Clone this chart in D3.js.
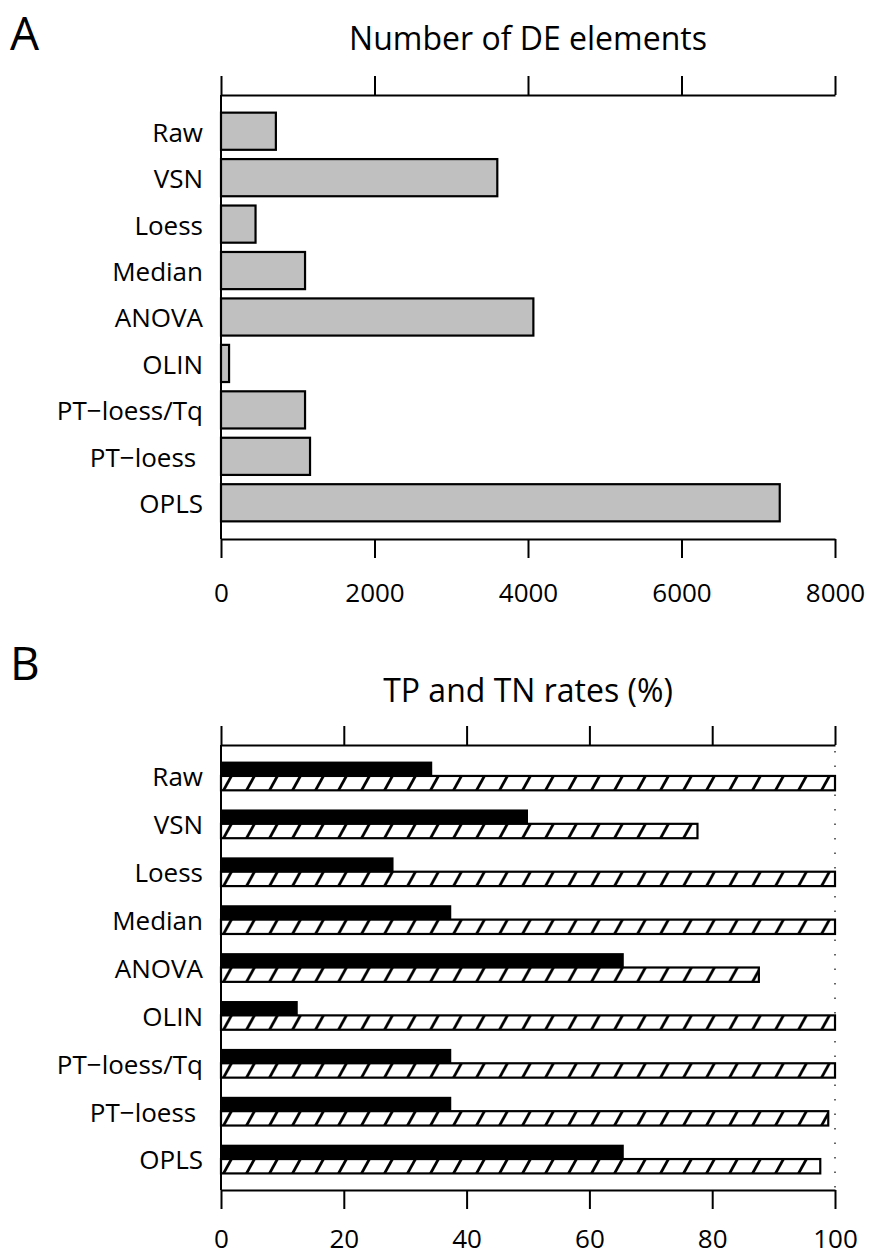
<!DOCTYPE html>
<html>
<head>
<meta charset="UTF-8">
<title>DE elements and TP/TN rates</title>
<script src="https://cdn.jsdelivr.net/npm/d3@7"></script>
<style>
  body { margin: 0; background: #fff; }
  text { font-family: "Open Sans", "Liberation Sans", sans-serif; fill: #000; }
</style>
</head>
<body>
<script>
// data
var methods = ["Raw", "VSN", "Loess", "Median", "ANOVA", "OLIN", "PT\u2212loess/Tq", "PT\u2212loess\u00a0", "OPLS"];
var deCounts = [715, 3600, 450, 1095, 4070, 105, 1095, 1160, 7280];
var tpRates = [34.4, 50, 28.1, 37.5, 65.6, 12.5, 37.5, 37.5, 65.6];
var tnRates = [100, 77.6, 100, 100, 87.6, 100, 100, 98.9, 97.6];
var deTicks = [0, 2000, 4000, 6000, 8000];
var rateTicks = [0, 20, 40, 60, 80, 100];
var rateSeries = ["TP", "TN"];

var W = 869, H = 1255;
var left = 221, right = 835;
var tick = 19;

var svg = d3.select("body").append("svg")
    .attr("width", W)
    .attr("height", H);
svg.append("rect").attr("width", W).attr("height", H).attr("fill", "#fff");

function frame(g, x, y, top, bottom, ticks, pad) {
    var axTop = g.append("g")
        .attr("transform", "translate(0," + top + ")")
        .call(d3.axisTop(x).tickValues(ticks).tickSize(tick).tickSizeOuter(0).tickFormat(""));
    var axBot = g.append("g")
        .attr("transform", "translate(0," + bottom + ")")
        .call(d3.axisBottom(x).tickValues(ticks).tickSize(tick).tickSizeOuter(0).tickPadding(pad).tickFormat(d3.format("d")));
    [axTop, axBot].forEach(function(a) {
        a.selectAll("path, line").attr("stroke", "#000").attr("stroke-width", 2);
        a.selectAll("text").attr("font-size", 26).attr("font-family", null);
    });
    g.append("line")
        .attr("x1", x(0)).attr("x2", x(0))
        .attr("y1", top).attr("y2", bottom)
        .attr("stroke", "#000").attr("stroke-width", 2);
    var ay = g.append("g")
        .attr("transform", "translate(" + x(0) + ",0)")
        .call(d3.axisLeft(y).tickSize(0).tickPadding(18));
    ay.select(".domain").remove();
    ay.selectAll("text").attr("font-size", 26).attr("font-family", null).attr("dy", "0.4em");
}

// ---------- panel A ----------
var topA = 95, botA = 539;
var xA = d3.scaleLinear().domain([0, 8000]).range([left, right]);
var yA = d3.scaleBand().domain(methods).range([topA + 13, botA - 13])
    .paddingInner(0.2).paddingOuter(0.1);

var gA = svg.append("g");
gA.append("text").attr("x", 10).attr("y", 50).attr("font-size", 46).text("A");
gA.append("text").attr("x", (left + right) / 2).attr("y", 50)
    .attr("text-anchor", "middle").attr("font-size", 32).text("Number of DE elements");

gA.selectAll("rect.bar").data(methods).enter().append("rect")
    .attr("class", "bar")
    .attr("x", xA(0))
    .attr("y", function(d) { return yA(d); })
    .attr("width", function(d, i) { return xA(deCounts[i]) - xA(0); })
    .attr("height", yA.bandwidth())
    .attr("fill", "#c0c0c0")
    .attr("stroke", "#000")
    .attr("stroke-width", 2.2);

frame(gA, xA, yA, topA, botA, deTicks, 26);

// ---------- panel B ----------
var topB = 745, botB = 1190;
var xB = d3.scaleLinear().domain([0, 100]).range([left, right]);
var yB = d3.scaleBand().domain(methods).range([topB + 7, botB - 7])
    .paddingInner(0.4).paddingOuter(0.2);
var ySub = d3.scaleBand().domain(rateSeries).range([0, yB.bandwidth()]);

var defs = svg.append("defs");
var hatch = defs.append("pattern")
    .attr("id", "hatch")
    .attr("patternUnits", "userSpaceOnUse")
    .attr("x", xB(0))
    .attr("y", yB(methods[0]) + ySub("TN"))
    .attr("width", 23)
    .attr("height", yB.step());
hatch.append("rect").attr("width", 23).attr("height", yB.step()).attr("fill", "#fff");
hatch.append("line")
    .attr("x1", 2).attr("y1", ySub.bandwidth() + 1)
    .attr("x2", 11).attr("y2", -1)
    .attr("stroke", "#000").attr("stroke-width", 2.8);

var gB = svg.append("g");
gB.append("text").attr("x", 10).attr("y", 680).attr("font-size", 46).text("B");
gB.append("text").attr("x", (left + right) / 2).attr("y", 702)
    .attr("text-anchor", "middle").attr("font-size", 32).text("TP and TN rates (%)");

// dotted 100% reference
gB.append("line")
    .attr("x1", xB(100)).attr("x2", xB(100))
    .attr("y1", topB + 6).attr("y2", botB)
    .attr("stroke", "#333").attr("stroke-width", 1.5)
    .attr("stroke-dasharray", "1.5,13");

gB.selectAll("rect.tp").data(methods).enter().append("rect")
    .attr("class", "tp")
    .attr("x", xB(0))
    .attr("y", function(d) { return yB(d) + ySub("TP"); })
    .attr("width", function(d, i) { return xB(tpRates[i]) - xB(0); })
    .attr("height", ySub.bandwidth())
    .attr("fill", "#000");

gB.selectAll("rect.tn").data(methods).enter().append("rect")
    .attr("class", "tn")
    .attr("x", xB(0))
    .attr("y", function(d) { return yB(d) + ySub("TN"); })
    .attr("width", function(d, i) { return xB(tnRates[i]) - xB(0); })
    .attr("height", ySub.bandwidth())
    .attr("fill", "url(#hatch)")
    .attr("stroke", "#000")
    .attr("stroke-width", 2.2);

frame(gB, xB, yB, topB, botB, rateTicks, 21);
</script>
</body>
</html>
